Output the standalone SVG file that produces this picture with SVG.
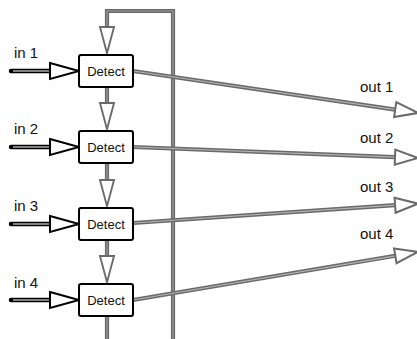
<svg xmlns="http://www.w3.org/2000/svg" width="417" height="339" viewBox="0 0 417 339">
<style>
.lbl{font-family:"Liberation Sans",Arial,sans-serif;font-size:15px;fill:#111}
.dt{font-family:"Liberation Sans",Arial,sans-serif;font-size:13px;fill:#111;text-anchor:middle}
.box{fill:#fff;stroke:#000;stroke-width:2}
.gout{fill:none;stroke:#6a6a6a;stroke-width:4.2;stroke-linecap:butt}
.gin{fill:none;stroke:#b4b4b4;stroke-width:1.2}
.fin{fill:none;stroke:#9a9a9a;stroke-width:1.2}
.bout{fill:none;stroke:#000;stroke-width:4.5;stroke-linecap:round}
.bin{fill:none;stroke:#fff;stroke-width:1.2}
.ahg{fill:#fff;stroke:#6a6a6a;stroke-width:2;stroke-linejoin:miter}
.ahb{fill:#fff;stroke:#000;stroke-width:2;stroke-linejoin:miter}
</style>
<defs>
<marker id="mg" markerUnits="userSpaceOnUse" markerWidth="30" markerHeight="20" viewBox="-2 -10 30 20" refX="0" refY="0" orient="auto" overflow="visible">
<polygon class="ahg" points="0,-7.5 23,0 0,7.5"/>
</marker>
<marker id="md" markerUnits="userSpaceOnUse" markerWidth="30" markerHeight="20" viewBox="-2 -10 32 20" refX="0" refY="0" orient="auto" overflow="visible">
<polygon class="ahg" points="0,-7.5 28,0 0,7.5"/>
</marker>
<marker id="mb" markerUnits="userSpaceOnUse" markerWidth="32" markerHeight="20" viewBox="-2 -10 32 20" refX="0" refY="0" orient="auto" overflow="visible">
<polygon class="ahb" points="0,-8 29,0 0,8"/>
</marker>
</defs>
<g id="connectors">
<!-- feedback loop -->
<path class="gout" d="M107,316 V341 H173 V11 H107 V27"/>
<path class="fin" d="M107,316 V341 H173 V11 H107 V27" marker-end="url(#md)"/>
<!-- down arrows -->
<path class="gout" d="M107,87 V103"/>
<path class="fin" d="M107,87 V103" marker-end="url(#md)"/>
<path class="gout" d="M107,163 V180"/>
<path class="fin" d="M107,163 V180" marker-end="url(#md)"/>
<path class="gout" d="M107,240 V256"/>
<path class="fin" d="M107,240 V256" marker-end="url(#md)"/>
<!-- inputs -->
<path class="bout" d="M11,71 H50"/>
<path class="bin" d="M13,71 H50" marker-end="url(#mb)"/>
<path class="bout" d="M11,147 H50"/>
<path class="bin" d="M13,147 H50" marker-end="url(#mb)"/>
<path class="bout" d="M11,224 H50"/>
<path class="bin" d="M13,224 H50" marker-end="url(#mb)"/>
<path class="bout" d="M11,300 H50"/>
<path class="bin" d="M13,300 H50" marker-end="url(#mb)"/>
<!-- outputs -->
<path class="gout" d="M133,71 L395.2,109.6"/>
<path class="gin" d="M133,71 L395.2,109.6" marker-end="url(#mg)"/>
<path class="gout" d="M133,147 L395,157.1"/>
<path class="gin" d="M133,147 L395,157.1" marker-end="url(#mg)"/>
<path class="gout" d="M133,223 L395.1,205.2"/>
<path class="gin" d="M133,223 L395.1,205.2" marker-end="url(#mg)"/>
<path class="gout" d="M133,300 L395.3,255.8"/>
<path class="gin" d="M133,300 L395.3,255.8" marker-end="url(#mg)"/>
</g>
<g id="labels">
<text class="lbl" x="14" y="58">in 1</text>
<text class="lbl" x="14" y="134">in 2</text>
<text class="lbl" x="14" y="211">in 3</text>
<text class="lbl" x="14" y="288">in 4</text>
<text class="lbl" x="360" y="92">out 1</text>
<text class="lbl" x="360" y="143">out 2</text>
<text class="lbl" x="360" y="192">out 3</text>
<text class="lbl" x="360" y="239">out 4</text>
</g>
<g id="detect1"><rect class="box" x="79" y="55" width="54" height="32" rx="2"/><text class="dt" x="106" y="75.5">Detect</text></g>
<g id="detect2"><rect class="box" x="79" y="131" width="54" height="32" rx="2"/><text class="dt" x="106" y="151.5">Detect</text></g>
<g id="detect3"><rect class="box" x="79" y="208" width="54" height="32" rx="2"/><text class="dt" x="106" y="228.5">Detect</text></g>
<g id="detect4"><rect class="box" x="79" y="284" width="54" height="32" rx="2"/><text class="dt" x="106" y="304.5">Detect</text></g>
</svg>
